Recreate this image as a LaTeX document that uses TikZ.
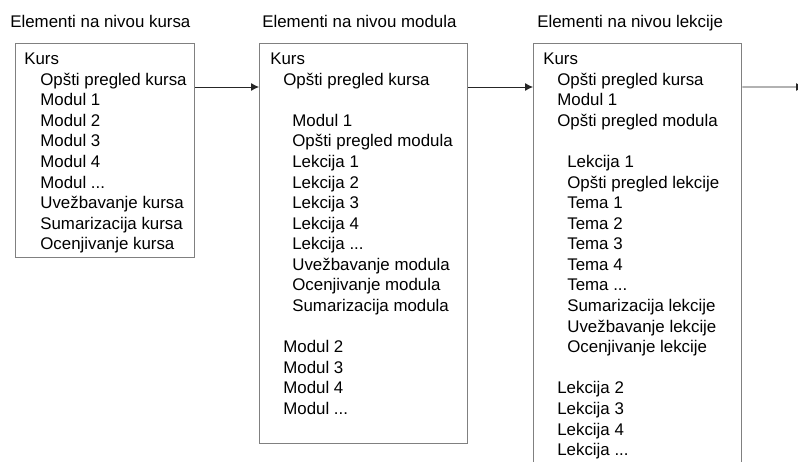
\documentclass[tikz,border=0pt]{standalone}
\usepackage{fontspec}
\setmainfont{Liberation Sans}
\usepackage{tikz}
\usetikzlibrary{arrows.meta}

\begin{document}
\begin{tikzpicture}[x=0.02cm, y=-0.02cm, font=\fontsize{9.6}{11.72}\selectfont,
    okvir/.style={draw=black!50, line width=0.8pt, anchor=north west, inner sep=0pt},
    lista/.style={anchor=north west, align=left, inner sep=0pt, text=black},
    naslov/.style={anchor=base west, inner sep=0pt, text=black},
    strelica/.style={-{Latex[length=4.5pt,width=4.5pt]}, line width=0.5pt, black!85}]
    \useasboundingbox (0,0) rectangle (798,461);

    % Naslovi
    \node[naslov] (nkurs) at (10,27) {Elementi na nivou kursa};
    \node[naslov] (nmodul) at (262,27) {Elementi na nivou modula};
    \node[naslov] (nlekcija) at (537,27) {Elementi na nivou lekcije};

    % Okviri
    \node[okvir, minimum width=3.58cm, minimum height=4.28cm] (kurs) at (15,43) {};
    \node[okvir, minimum width=4.16cm, minimum height=8cm] (modul) at (259,43) {};
    \node[okvir, minimum width=4.16cm, minimum height=9cm] (lekcija) at (533,43) {};

    % Sadrzaj okvira
    \node[lista] (lkurs) at (24,52.5) {Kurs\\
        \hspace*{0.32cm}Opšti pregled kursa\\
        \hspace*{0.32cm}Modul 1\\
        \hspace*{0.32cm}Modul 2\\
        \hspace*{0.32cm}Modul 3\\
        \hspace*{0.32cm}Modul 4\\
        \hspace*{0.32cm}Modul ...\\
        \hspace*{0.32cm}Uvežbavanje kursa\\
        \hspace*{0.32cm}Sumarizacija kursa\\
        \hspace*{0.32cm}Ocenjivanje kursa};
    \node[lista] (lmodul) at (270,52.5) {Kurs\\
        \hspace*{0.26cm}Opšti pregled kursa\\[11.72pt]
        \hspace*{0.44cm}Modul 1\\
        \hspace*{0.44cm}Opšti pregled modula\\
        \hspace*{0.44cm}Lekcija 1\\
        \hspace*{0.44cm}Lekcija 2\\
        \hspace*{0.44cm}Lekcija 3\\
        \hspace*{0.44cm}Lekcija 4\\
        \hspace*{0.44cm}Lekcija ...\\
        \hspace*{0.44cm}Uvežbavanje modula\\
        \hspace*{0.44cm}Ocenjivanje modula\\
        \hspace*{0.44cm}Sumarizacija modula\\[11.72pt]
        \hspace*{0.26cm}Modul 2\\
        \hspace*{0.26cm}Modul 3\\
        \hspace*{0.26cm}Modul 4\\
        \hspace*{0.26cm}Modul ...};
    \node[lista] (llekcija) at (543,52.5) {Kurs\\
        \hspace*{0.28cm}Opšti pregled kursa\\
        \hspace*{0.28cm}Modul 1\\
        \hspace*{0.28cm}Opšti pregled modula\\[11.72pt]
        \hspace*{0.48cm}Lekcija 1\\
        \hspace*{0.48cm}Opšti pregled lekcije\\
        \hspace*{0.48cm}Tema 1\\
        \hspace*{0.48cm}Tema 2\\
        \hspace*{0.48cm}Tema 3\\
        \hspace*{0.48cm}Tema 4\\
        \hspace*{0.48cm}Tema ...\\
        \hspace*{0.48cm}Sumarizacija lekcije\\
        \hspace*{0.48cm}Uvežbavanje lekcije\\
        \hspace*{0.48cm}Ocenjivanje lekcije\\[11.72pt]
        \hspace*{0.28cm}Lekcija 2\\
        \hspace*{0.28cm}Lekcija 3\\
        \hspace*{0.28cm}Lekcija 4\\
        \hspace*{0.28cm}Lekcija ...};

    % Strelice
    \coordinate (dalje) at (804,87);
    \draw[strelica] ([yshift=-0.88cm]kurs.north east) -- ([yshift=-0.88cm]modul.north west);
    \draw[strelica] ([yshift=-0.88cm]modul.north east) -- ([yshift=-0.88cm]lekcija.north west);
    \draw[strelica] ([yshift=-0.88cm]lekcija.north east) -- (dalje);
\end{tikzpicture}
\end{document}
